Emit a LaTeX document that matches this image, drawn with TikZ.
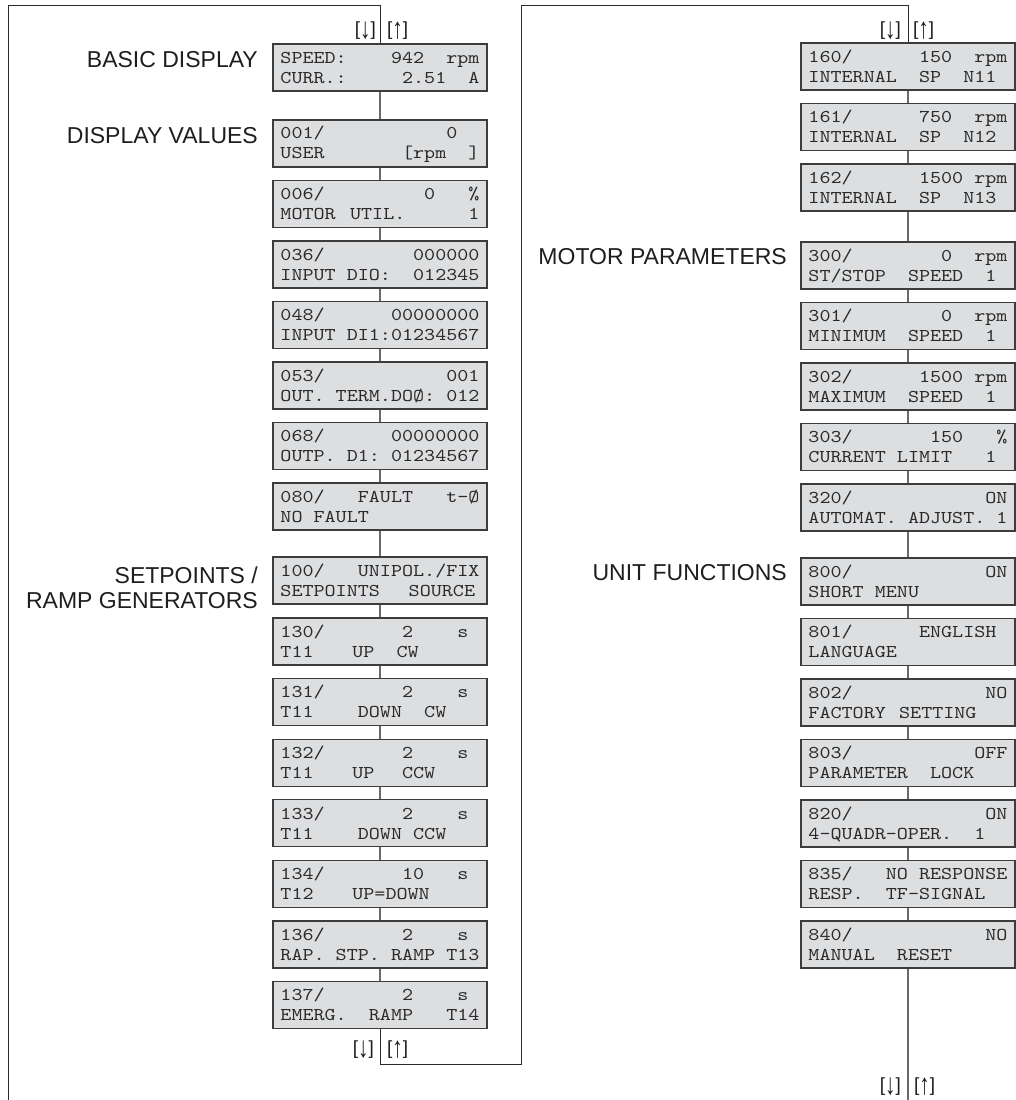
\documentclass[tikz,border=0pt]{standalone}
\usepackage{fontspec}
\usepackage{graphicx}
\setmainfont{Liberation Sans}
\newfontfamily\lcdfont[FakeStretch=1.17]{lmmono10-regular.otf}
\definecolor{boxfill}{HTML}{DDDEE0}
\definecolor{boxline}{HTML}{3C3C3C}
\definecolor{lcdtext}{HTML}{2A2A2A}
\definecolor{labeltext}{HTML}{1E1E1E}
\definecolor{linkc}{HTML}{6A6A6A}
\definecolor{framec}{HTML}{2A2A2A}
\newlength\cw \setlength\cw{11.06pt}
\newcommand\seg[2]{\makebox[0pt][l]{\hspace*{#1\cw}#2}}
\newcommand\lcd[2]{\vbox{\baselineskip=20pt\lineskiplimit=-30pt\lineskip=0pt
  \hbox to 18\cw{\vrule height 14.5pt depth 0pt width 0pt#1\hfil}
  \hbox to 18\cw{\vrule height 0pt depth 3pt width 0pt#2\hfil}}}
\newcommand\keyarrow[1]{[\raisebox{-0.14em}{\scalebox{1.1}[1.55]{#1}}]}
\tikzset{
  lcdbox/.style={draw=boxline, fill=boxfill, line width=1.3pt, minimum width=214pt,
    minimum height=47pt, inner sep=0pt, font=\lcdfont\fontsize{18}{20}\selectfont, text=lcdtext},
  grp/.style={font=\fontsize{23}{25}\selectfont, text=labeltext, inner sep=0pt, anchor=east, align=right},
  keys/.style={font=\fontsize{19}{21}\selectfont, inner sep=0pt, text=labeltext},
  link/.style={draw=linkc, line width=1.3pt},
  frame/.style={draw=framec, line width=1pt},
}
\begin{document}
\begin{tikzpicture}[x=1pt,y=-1pt]
\fill[white] (0,0) rectangle (1016,1100);
\useasboundingbox (0,0) rectangle (1016,1100);

% left column
\node[lcdbox] (b0) at (380,67.5) {\lcd{\seg{0}{SPEED:}\seg{10}{942}\seg{15}{rpm}}{\seg{0}{CURR.:}\seg{11}{2.51}\seg{17}{A}}};
\node[lcdbox] (p001) at (380,143.5) {\lcd{\seg{0}{001/}\seg{15}{0}}{\seg{0}{USER}\seg{11}{[rpm}\seg{17}{]}}};
\node[lcdbox] (p006) at (380,204) {\lcd{\seg{0}{006/}\seg{13}{0}\seg{17}{\%}}{\seg{0}{MOTOR}\seg{6.3}{UTIL.}\seg{17}{1}}};
\node[lcdbox] (p036) at (380,264.5) {\lcd{\seg{0}{036/}\seg{12}{000000}}{\seg{0}{INPUT}\seg{6}{DIO:}\seg{12}{012345}}};
\node[lcdbox] (p048) at (380,325) {\lcd{\seg{0}{048/}\seg{10}{00000000}}{\seg{0}{INPUT}\seg{6}{DI1:01234567}}};
\node[lcdbox] (p053) at (380,385.5) {\lcd{\seg{0}{053/}\seg{15}{001}}{\seg{0}{OUT.}\seg{5}{TERM.DOØ:}\seg{15}{012}}};
\node[lcdbox] (p068) at (380,446) {\lcd{\seg{0}{068/}\seg{10}{00000000}}{\seg{0}{OUTP.}\seg{6}{D1:}\seg{10}{01234567}}};
\node[lcdbox] (p080) at (380,506.5) {\lcd{\seg{0}{080/}\seg{7}{FAULT}\seg{15}{t-Ø}}{\seg{0}{NO}\seg{3}{FAULT}}};
\node[lcdbox] (p100) at (380,580.5) {\lcd{\seg{0}{100/}\seg{7}{UNIPOL./FIX}}{\seg{0}{SETPOINTS}\seg{11.6}{SOURCE}}};
\node[lcdbox] (p130) at (380,641.5) {\lcd{\seg{0}{130/}\seg{11}{2}\seg{16}{s}}{\seg{0}{T11}\seg{6.5}{UP}\seg{10.5}{CW}}};
\node[lcdbox] (p131) at (380,702.1) {\lcd{\seg{0}{131/}\seg{11}{2}\seg{16}{s}}{\seg{0}{T11}\seg{7}{DOWN}\seg{13}{CW}}};
\node[lcdbox] (p132) at (380,762.7) {\lcd{\seg{0}{132/}\seg{11}{2}\seg{16}{s}}{\seg{0}{T11}\seg{6.5}{UP}\seg{11}{CCW}}};
\node[lcdbox] (p133) at (380,823.3) {\lcd{\seg{0}{133/}\seg{11}{2}\seg{16}{s}}{\seg{0}{T11}\seg{7}{DOWN}\seg{12}{CCW}}};
\node[lcdbox] (p134) at (380,883.9) {\lcd{\seg{0}{134/}\seg{11}{10}\seg{16}{s}}{\seg{0}{T12}\seg{6.5}{UP=DOWN}}};
\node[lcdbox] (p136) at (380,944.5) {\lcd{\seg{0}{136/}\seg{11}{2}\seg{16}{s}}{\seg{0}{RAP.}\seg{5}{STP.}\seg{10}{RAMP}\seg{15}{T13}}};
\node[lcdbox] (p137) at (380,1005.1) {\lcd{\seg{0}{137/}\seg{11}{2}\seg{16}{s}}{\seg{0}{EMERG.}\seg{8}{RAMP}\seg{15}{T14}}};

% right column
\node[lcdbox] (r160) at (908,66.5) {\lcd{\seg{0}{160/}\seg{10}{150}\seg{15}{rpm}}{\seg{0}{INTERNAL}\seg{10}{SP}\seg{14}{N11}}};
\node[lcdbox] (r161) at (908,127) {\lcd{\seg{0}{161/}\seg{10}{750}\seg{15}{rpm}}{\seg{0}{INTERNAL}\seg{10}{SP}\seg{14}{N12}}};
\node[lcdbox] (r162) at (908,187.5) {\lcd{\seg{0}{162/}\seg{10}{1500}\seg{15}{rpm}}{\seg{0}{INTERNAL}\seg{10}{SP}\seg{14}{N13}}};
\node[lcdbox] (r300) at (908,265.5) {\lcd{\seg{0}{300/}\seg{12}{0}\seg{15}{rpm}}{\seg{0}{ST/STOP}\seg{9}{SPEED}\seg{16}{1}}};
\node[lcdbox] (r301) at (908,326) {\lcd{\seg{0}{301/}\seg{12}{0}\seg{15}{rpm}}{\seg{0}{MINIMUM}\seg{9}{SPEED}\seg{16}{1}}};
\node[lcdbox] (r302) at (908,386.5) {\lcd{\seg{0}{302/}\seg{10}{1500}\seg{15}{rpm}}{\seg{0}{MAXIMUM}\seg{9}{SPEED}\seg{16}{1}}};
\node[lcdbox] (r303) at (908,447) {\lcd{\seg{0}{303/}\seg{11}{150}\seg{17}{\%}}{\seg{0}{CURRENT}\seg{8}{LIMIT}\seg{16}{1}}};
\node[lcdbox] (r320) at (908,507.5) {\lcd{\seg{0}{320/}\seg{16}{ON}}{\seg{0}{AUTOMAT.}\seg{9}{ADJUST.}\seg{17}{1}}};
\node[lcdbox] (r800) at (908,581.5) {\lcd{\seg{0}{800/}\seg{16}{ON}}{\seg{0}{SHORT}\seg{6}{MENU}}};
\node[lcdbox] (r801) at (908,642) {\lcd{\seg{0}{801/}\seg{10}{ENGLISH}}{\seg{0}{LANGUAGE}}};
\node[lcdbox] (r802) at (908,702.5) {\lcd{\seg{0}{802/}\seg{16}{NO}}{\seg{0}{FACTORY}\seg{8.2}{SETTING}}};
\node[lcdbox] (r803) at (908,763) {\lcd{\seg{0}{803/}\seg{15}{OFF}}{\seg{0}{PARAMETER}\seg{11}{LOCK}}};
\node[lcdbox] (r820) at (908,823.5) {\lcd{\seg{0}{820/}\seg{16}{ON}}{\seg{0}{4-QUADR-OPER.}\seg{15}{1}}};
\node[lcdbox] (r835) at (908,884) {\lcd{\seg{0}{835/}\seg{7}{NO}\seg{10}{RESPONSE}}{\seg{0}{RESP.}\seg{7}{TF-SIGNAL}}};
\node[lcdbox] (r840) at (908,944.5) {\lcd{\seg{0}{840/}\seg{16}{NO}}{\seg{0}{MANUAL}\seg{8}{RESET}}};

% group labels
\node[grp] (lbasic) at (258,60) {BASIC DISPLAY};
\node[grp] (lvalues) at (258,136) {DISPLAY VALUES};
\node[grp] (lsetp) at (258,587.5) {SETPOINTS /\\RAMP GENERATORS};
\node[grp] (lmotor) at (787,257) {MOTOR PARAMETERS};
\node[grp] (lunit) at (787,573) {UNIT FUNCTIONS};

% key labels
\node[keys, anchor=east] (kd1) at (376,31) {\keyarrow{↓}};
\node[keys, anchor=west] (ku1) at (387,31) {\keyarrow{↑}};
\node[keys, anchor=east] (kd2) at (901,31) {\keyarrow{↓}};
\node[keys, anchor=west] (ku2) at (913,31) {\keyarrow{↑}};
\node[keys, anchor=east] (kd3) at (374,1050) {\keyarrow{↓}};
\node[keys, anchor=west] (ku3) at (387,1050) {\keyarrow{↑}};
\node[keys, anchor=east] (kd4) at (901,1087) {\keyarrow{↓}};
\node[keys, anchor=west] (ku4) at (914,1087) {\keyarrow{↑}};

% frame coordinates
\coordinate (lb) at (8,1100);
\coordinate (lt) at (8,5);
\coordinate (lt2) at (380,5);
\coordinate (bend1) at (380,1064);
\coordinate (bend2) at (521,1064);
\coordinate (bend3) at (521,5);
\coordinate (bend4) at (908,5);
\coordinate (rend) at (908,1100);

\draw[frame] (lb) -- (lt) -- (lt2) -- (b0);
\foreach \a/\b in {b0/p001,p001/p006,p006/p036,p036/p048,p048/p053,p053/p068,p068/p080,p080/p100,
  p100/p130,p130/p131,p131/p132,p132/p133,p133/p134,p134/p136,p136/p137,
  r160/r161,r161/r162,r162/r300,r300/r301,r301/r302,r302/r303,r303/r320,r320/r800,
  r800/r801,r801/r802,r802/r803,r803/r820,r820/r835,r835/r840}
  {\draw[link] (\a) -- (\b);}
\draw[frame] (p137) -- (bend1) -- (bend2) -- (bend3) -- (bend4) -- (r160);
\draw[link] (r840) -- (rend);
\end{tikzpicture}
\end{document}
